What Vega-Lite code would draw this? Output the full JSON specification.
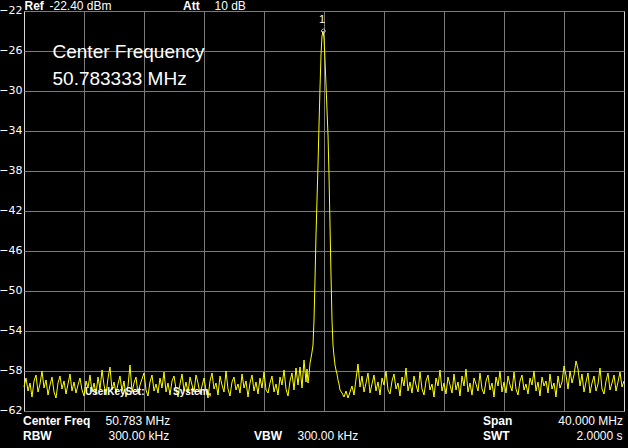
{
  "$schema": "https://vega.github.io/schema/vega-lite/v6.json",
  "width": 600,
  "height": 400,
  "autosize": {"type": "none"},
  "padding": {"left": 24, "top": 11, "right": 4, "bottom": 37},
  "background": "#000000",
  "config": {
    "view": {"stroke": "#d8d8d8", "strokeWidth": 1},
    "text": {"color": "#ffffff"},
    "axis": {"title": null, "ticks": false, "domain": false, "grid": true, "gridColor": "#7a7a7a", "labelOverlap": false},
    "axisX": {"labels": false},
    "axisY": {"labelColor": "#ffffff", "labelFont": "DejaVu Sans", "labelFontSize": 11, "labelPadding": 2, "labelOffset": -1, "labelOverlap": false, "labelFlush": false},
    "style": {
      "lb": {"font": "Liberation Sans", "fontSize": 12, "fontWeight": "bold", "align": "left", "baseline": "alphabetic"},
      "ln": {"font": "Liberation Sans", "fontSize": 12, "align": "left", "baseline": "alphabetic"},
      "rn": {"font": "Liberation Sans", "fontSize": 12, "align": "right", "baseline": "alphabetic"},
      "big": {"font": "Liberation Sans", "fontSize": 19, "align": "left", "baseline": "alphabetic"},
      "sys": {"font": "Liberation Sans", "fontSize": 10, "fontWeight": "bold", "align": "left", "baseline": "alphabetic"},
      "mk": {"font": "Liberation Sans", "fontSize": 11, "align": "center", "baseline": "alphabetic"}
    }
  },
  "layer": [
    {
      "data": {"values": [
        {"pt":0,"dBm":-59.6},{"pt":2,"dBm":-58.7},{"pt":4,"dBm":-60.0},{"pt":6,"dBm":-59.2},{"pt":8,"dBm":-60.6},{"pt":10,"dBm":-59.0},{"pt":12,"dBm":-58.4},{"pt":14,"dBm":-60.1},{"pt":16,"dBm":-59.3},{"pt":18,"dBm":-58.0},
        {"pt":20,"dBm":-59.7},{"pt":22,"dBm":-58.9},{"pt":24,"dBm":-60.4},{"pt":26,"dBm":-59.4},{"pt":28,"dBm":-58.6},{"pt":30,"dBm":-60.1},{"pt":32,"dBm":-60.7},{"pt":34,"dBm":-59.2},{"pt":36,"dBm":-58.5},{"pt":38,"dBm":-59.8},
        {"pt":40,"dBm":-59.0},{"pt":42,"dBm":-60.3},{"pt":44,"dBm":-59.3},{"pt":46,"dBm":-58.3},{"pt":48,"dBm":-60.0},{"pt":50,"dBm":-59.1},{"pt":52,"dBm":-60.2},{"pt":54,"dBm":-59.4},{"pt":56,"dBm":-58.7},{"pt":58,"dBm":-59.9},
        {"pt":60,"dBm":-60.5},{"pt":62,"dBm":-59.0},{"pt":64,"dBm":-59.7},{"pt":66,"dBm":-58.4},{"pt":68,"dBm":-60.1},{"pt":70,"dBm":-59.2},{"pt":72,"dBm":-60.3},{"pt":74,"dBm":-58.6},{"pt":76,"dBm":-59.8},{"pt":78,"dBm":-57.9},
        {"pt":80,"dBm":-59.4},{"pt":82,"dBm":-60.4},{"pt":84,"dBm":-58.7},{"pt":86,"dBm":-57.6},{"pt":88,"dBm":-59.9},{"pt":90,"dBm":-59.1},{"pt":92,"dBm":-60.2},{"pt":94,"dBm":-59.3},{"pt":96,"dBm":-58.5},{"pt":98,"dBm":-60.0},
        {"pt":100,"dBm":-59.0},{"pt":102,"dBm":-60.6},{"pt":104,"dBm":-59.5},{"pt":106,"dBm":-57.4},{"pt":108,"dBm":-60.1},{"pt":110,"dBm":-59.2},{"pt":112,"dBm":-58.6},{"pt":114,"dBm":-60.3},{"pt":116,"dBm":-59.4},{"pt":118,"dBm":-58.8},
        {"pt":120,"dBm":-58.2},{"pt":122,"dBm":-59.9},{"pt":124,"dBm":-60.5},{"pt":126,"dBm":-59.1},{"pt":128,"dBm":-58.4},{"pt":130,"dBm":-60.0},{"pt":132,"dBm":-59.3},{"pt":134,"dBm":-60.2},{"pt":136,"dBm":-58.7},{"pt":138,"dBm":-59.7},
        {"pt":140,"dBm":-58.1},{"pt":142,"dBm":-60.1},{"pt":144,"dBm":-59.2},{"pt":146,"dBm":-60.4},{"pt":148,"dBm":-59.0},{"pt":150,"dBm":-58.5},{"pt":152,"dBm":-59.8},{"pt":154,"dBm":-60.6},{"pt":156,"dBm":-59.3},{"pt":158,"dBm":-58.3},
        {"pt":160,"dBm":-60.0},{"pt":162,"dBm":-59.1},{"pt":164,"dBm":-60.2},{"pt":166,"dBm":-58.6},{"pt":168,"dBm":-59.4},{"pt":170,"dBm":-60.1},{"pt":172,"dBm":-58.4},{"pt":174,"dBm":-59.2},{"pt":176,"dBm":-60.3},{"pt":178,"dBm":-59.5},
        {"pt":180,"dBm":-58.7},{"pt":182,"dBm":-59.9},{"pt":184,"dBm":-60.7},{"pt":186,"dBm":-59.0},{"pt":188,"dBm":-58.2},{"pt":190,"dBm":-59.8},{"pt":192,"dBm":-59.2},{"pt":194,"dBm":-60.4},{"pt":196,"dBm":-58.5},{"pt":198,"dBm":-59.4},
        {"pt":200,"dBm":-60.1},{"pt":202,"dBm":-58.0},{"pt":204,"dBm":-59.8},{"pt":206,"dBm":-60.5},{"pt":208,"dBm":-59.1},{"pt":210,"dBm":-58.6},{"pt":212,"dBm":-59.9},{"pt":214,"dBm":-59.3},{"pt":216,"dBm":-60.2},{"pt":218,"dBm":-58.3},
        {"pt":220,"dBm":-59.7},{"pt":222,"dBm":-59.0},{"pt":224,"dBm":-60.6},{"pt":226,"dBm":-59.2},{"pt":228,"dBm":-58.4},{"pt":230,"dBm":-60.0},{"pt":232,"dBm":-59.1},{"pt":234,"dBm":-60.3},{"pt":236,"dBm":-58.7},{"pt":238,"dBm":-59.7},
        {"pt":240,"dBm":-58.1},{"pt":242,"dBm":-59.9},{"pt":244,"dBm":-60.2},{"pt":246,"dBm":-59.2},{"pt":248,"dBm":-58.5},{"pt":250,"dBm":-60.1},{"pt":252,"dBm":-59.3},{"pt":254,"dBm":-60.4},{"pt":256,"dBm":-58.6},{"pt":258,"dBm":-59.4},
        {"pt":260,"dBm":-57.9},{"pt":262,"dBm":-59.8},{"pt":264,"dBm":-60.5},{"pt":266,"dBm":-59.0},{"pt":268,"dBm":-58.2},{"pt":270,"dBm":-59.9},{"pt":272,"dBm":-57.7},{"pt":274,"dBm":-59.4},{"pt":276,"dBm":-57.6},{"pt":278,"dBm":-59.7},
        {"pt":280,"dBm":-56.9},{"pt":282,"dBm":-59.1},{"pt":283,"dBm":-57.8},{"pt":284,"dBm":-59.2},{"pt":285,"dBm":-58.4},{"pt":286,"dBm":-57.2},{"pt":287,"dBm":-56.7},{"pt":288,"dBm":-56.1},{"pt":289,"dBm":-55.4},
        {"pt":290,"dBm":-52.9},{"pt":291,"dBm":-48.9},{"pt":292,"dBm":-44.4},{"pt":293,"dBm":-40.9},{"pt":294,"dBm":-37.4},{"pt":295,"dBm":-33.4},{"pt":296,"dBm":-29.7},{"pt":297,"dBm":-26.4},{"pt":298,"dBm":-24.5},{"pt":299,"dBm":-24.0},
        {"pt":300,"dBm":-24.7},{"pt":301,"dBm":-26.9},{"pt":302,"dBm":-29.4},{"pt":303,"dBm":-31.9},{"pt":304,"dBm":-34.4},{"pt":305,"dBm":-38.4},{"pt":306,"dBm":-43.4},{"pt":307,"dBm":-48.4},{"pt":308,"dBm":-52.9},{"pt":309,"dBm":-55.4},
        {"pt":310,"dBm":-56.5},{"pt":311,"dBm":-57.4},{"pt":312,"dBm":-57.9},{"pt":313,"dBm":-58.3},{"pt":314,"dBm":-58.9},{"pt":315,"dBm":-59.3},{"pt":316,"dBm":-59.9},{"pt":318,"dBm":-60.2},
        {"pt":320,"dBm":-60.6},{"pt":322,"dBm":-60.0},{"pt":324,"dBm":-60.7},{"pt":326,"dBm":-60.1},{"pt":328,"dBm":-59.5},{"pt":330,"dBm":-60.4},{"pt":332,"dBm":-58.8},{"pt":334,"dBm":-57.3},{"pt":336,"dBm":-59.6},{"pt":338,"dBm":-58.5},
        {"pt":340,"dBm":-60.1},{"pt":342,"dBm":-59.2},{"pt":344,"dBm":-58.2},{"pt":346,"dBm":-60.2},{"pt":348,"dBm":-59.3},{"pt":350,"dBm":-58.4},{"pt":352,"dBm":-60.0},{"pt":354,"dBm":-59.1},{"pt":356,"dBm":-60.4},{"pt":358,"dBm":-58.7},
        {"pt":360,"dBm":-59.4},{"pt":362,"dBm":-58.0},{"pt":364,"dBm":-59.9},{"pt":366,"dBm":-60.3},{"pt":368,"dBm":-59.0},{"pt":370,"dBm":-58.3},{"pt":372,"dBm":-59.8},{"pt":374,"dBm":-59.2},{"pt":376,"dBm":-60.5},{"pt":378,"dBm":-58.6},
        {"pt":380,"dBm":-59.5},{"pt":382,"dBm":-57.7},{"pt":384,"dBm":-60.0},{"pt":386,"dBm":-59.1},{"pt":388,"dBm":-60.2},{"pt":390,"dBm":-58.5},{"pt":392,"dBm":-59.4},{"pt":394,"dBm":-60.1},{"pt":396,"dBm":-58.1},{"pt":398,"dBm":-59.8},
        {"pt":400,"dBm":-60.4},{"pt":402,"dBm":-59.0},{"pt":404,"dBm":-58.4},{"pt":406,"dBm":-59.9},{"pt":408,"dBm":-59.3},{"pt":410,"dBm":-60.6},{"pt":412,"dBm":-58.7},{"pt":414,"dBm":-59.5},{"pt":416,"dBm":-57.9},{"pt":418,"dBm":-60.0},
        {"pt":420,"dBm":-59.2},{"pt":422,"dBm":-60.3},{"pt":424,"dBm":-58.6},{"pt":426,"dBm":-59.4},{"pt":428,"dBm":-60.2},{"pt":430,"dBm":-58.3},{"pt":432,"dBm":-59.9},{"pt":434,"dBm":-59.1},{"pt":436,"dBm":-60.5},{"pt":438,"dBm":-58.5},
        {"pt":440,"dBm":-59.5},{"pt":442,"dBm":-57.8},{"pt":444,"dBm":-60.1},{"pt":446,"dBm":-59.2},{"pt":448,"dBm":-60.4},{"pt":450,"dBm":-58.7},{"pt":452,"dBm":-59.3},{"pt":454,"dBm":-60.0},{"pt":456,"dBm":-58.2},{"pt":458,"dBm":-59.8},
        {"pt":460,"dBm":-60.3},{"pt":462,"dBm":-59.0},{"pt":464,"dBm":-58.4},{"pt":466,"dBm":-59.9},{"pt":468,"dBm":-59.2},{"pt":470,"dBm":-60.6},{"pt":472,"dBm":-58.6},{"pt":474,"dBm":-59.5},{"pt":476,"dBm":-58.0},{"pt":478,"dBm":-60.1},
        {"pt":480,"dBm":-59.1},{"pt":482,"dBm":-60.2},{"pt":484,"dBm":-58.5},{"pt":486,"dBm":-59.4},{"pt":488,"dBm":-60.0},{"pt":490,"dBm":-58.1},{"pt":492,"dBm":-59.8},{"pt":494,"dBm":-60.4},{"pt":496,"dBm":-59.0},{"pt":498,"dBm":-58.4},
        {"pt":500,"dBm":-59.9},{"pt":502,"dBm":-59.3},{"pt":504,"dBm":-60.3},{"pt":506,"dBm":-58.7},{"pt":508,"dBm":-59.4},{"pt":510,"dBm":-58.0},{"pt":512,"dBm":-60.0},{"pt":514,"dBm":-59.1},{"pt":516,"dBm":-60.5},{"pt":518,"dBm":-58.6},
        {"pt":520,"dBm":-59.5},{"pt":522,"dBm":-59.0},{"pt":524,"dBm":-60.2},{"pt":526,"dBm":-58.3},{"pt":528,"dBm":-59.8},{"pt":530,"dBm":-59.2},{"pt":532,"dBm":-60.6},{"pt":534,"dBm":-58.5},{"pt":536,"dBm":-59.7},{"pt":538,"dBm":-59.1},
        {"pt":540,"dBm":-57.5},{"pt":542,"dBm":-58.4},{"pt":544,"dBm":-59.8},{"pt":546,"dBm":-58.0},{"pt":548,"dBm":-59.2},{"pt":550,"dBm":-58.4},{"pt":552,"dBm":-57.0},{"pt":554,"dBm":-57.8},{"pt":556,"dBm":-59.5},{"pt":558,"dBm":-58.3},
        {"pt":560,"dBm":-60.1},{"pt":562,"dBm":-59.1},{"pt":564,"dBm":-58.2},{"pt":566,"dBm":-60.2},{"pt":568,"dBm":-59.2},{"pt":570,"dBm":-58.5},{"pt":572,"dBm":-60.0},{"pt":574,"dBm":-59.3},{"pt":576,"dBm":-57.7},{"pt":578,"dBm":-59.8},
        {"pt":580,"dBm":-60.3},{"pt":582,"dBm":-59.0},{"pt":584,"dBm":-58.2},{"pt":586,"dBm":-59.9},{"pt":588,"dBm":-59.2},{"pt":590,"dBm":-58.4},{"pt":592,"dBm":-60.0},{"pt":594,"dBm":-59.1},{"pt":596,"dBm":-58.1},{"pt":598,"dBm":-59.6},
        {"pt":600,"dBm":-59.0}
      ]},
      "mark": {"type": "line", "color": "#ffff00", "strokeWidth": 1, "interpolate": "linear"},
      "encoding": {
        "x": {"field": "pt", "type": "quantitative", "scale": {"domain": [0, 600], "nice": false, "zero": false},
          "axis": {"values": [60,120,180,240,300,360,420,480,540], "tickCount": 20}},
        "y": {"field": "dBm", "type": "quantitative", "scale": {"domain": [-62, -22], "nice": false, "zero": false},
          "axis": {"values": [-22,-26,-30,-34,-38,-42,-46,-50,-54,-58,-62], "tickCount": 20, "labelOverlap": false}}
      }
    },
    {"data": {"values": [{}]}, "mark": {"type": "point", "shape": "diamond", "filled": false, "stroke": "#ffffff", "strokeWidth": 1, "size": 22},
      "encoding": {"x": {"datum": 299.3}, "y": {"datum": -24.0}}},
    {"data": {"values": [{}]}, "mark": {"type": "text", "style": "mk"}, "encoding": {"x": {"datum": 298}, "y": {"datum": -23.2}, "text": {"value": "1"}}},
    {"data": {"values": [{}]}, "mark": {"type": "text", "style": "big"}, "encoding": {"x": {"datum": 28.5}, "y": {"datum": -26.7}, "text": {"value": "Center Frequency"}}},
    {"data": {"values": [{}]}, "mark": {"type": "text", "style": "big"}, "encoding": {"x": {"datum": 28.5}, "y": {"datum": -29.4}, "text": {"value": "50.783333 MHz"}}},
    {"data": {"values": [{}]}, "mark": {"type": "text", "style": "lb"}, "encoding": {"x": {"datum": 0.5}, "y": {"datum": -21.9}, "text": {"value": "Ref"}}},
    {"data": {"values": [{}]}, "mark": {"type": "text", "style": "ln"}, "encoding": {"x": {"datum": 25.5}, "y": {"datum": -21.9}, "text": {"value": "-22.40 dBm"}}},
    {"data": {"values": [{}]}, "mark": {"type": "text", "style": "lb"}, "encoding": {"x": {"datum": 159}, "y": {"datum": -21.9}, "text": {"value": "Att"}}},
    {"data": {"values": [{}]}, "mark": {"type": "text", "style": "ln"}, "encoding": {"x": {"datum": 190.5}, "y": {"datum": -21.9}, "text": {"value": "10 dB"}}},
    {"data": {"values": [{}]}, "mark": {"type": "text", "style": "lb"}, "encoding": {"x": {"datum": -1}, "y": {"datum": -63.4}, "text": {"value": "Center Freq"}}},
    {"data": {"values": [{}]}, "mark": {"type": "text", "style": "ln"}, "encoding": {"x": {"datum": 81.5}, "y": {"datum": -63.4}, "text": {"value": "50.783 MHz"}}},
    {"data": {"values": [{}]}, "mark": {"type": "text", "style": "lb"}, "encoding": {"x": {"datum": -1}, "y": {"datum": -64.9}, "text": {"value": "RBW"}}},
    {"data": {"values": [{}]}, "mark": {"type": "text", "style": "ln"}, "encoding": {"x": {"datum": 84.5}, "y": {"datum": -64.9}, "text": {"value": "300.00 kHz"}}},
    {"data": {"values": [{}]}, "mark": {"type": "text", "style": "lb"}, "encoding": {"x": {"datum": 230}, "y": {"datum": -64.9}, "text": {"value": "VBW"}}},
    {"data": {"values": [{}]}, "mark": {"type": "text", "style": "ln"}, "encoding": {"x": {"datum": 273.5}, "y": {"datum": -64.9}, "text": {"value": "300.00 kHz"}}},
    {"data": {"values": [{}]}, "mark": {"type": "text", "style": "lb"}, "encoding": {"x": {"datum": 459}, "y": {"datum": -63.4}, "text": {"value": "Span"}}},
    {"data": {"values": [{}]}, "mark": {"type": "text", "style": "rn"}, "encoding": {"x": {"datum": 599}, "y": {"datum": -63.4}, "text": {"value": "40.000 MHz"}}},
    {"data": {"values": [{}]}, "mark": {"type": "text", "style": "lb"}, "encoding": {"x": {"datum": 459}, "y": {"datum": -64.9}, "text": {"value": "SWT"}}},
    {"data": {"values": [{}]}, "mark": {"type": "text", "style": "rn"}, "encoding": {"x": {"datum": 598.5}, "y": {"datum": -64.9}, "text": {"value": "2.0000 s"}}},
    {"data": {"values": [{}]}, "mark": {"type": "text", "style": "sys"}, "encoding": {"x": {"datum": 61}, "y": {"datum": -60.4}, "text": {"value": "UserKeySet:"}}},
    {"data": {"values": [{}]}, "mark": {"type": "text", "style": "sys"}, "encoding": {"x": {"datum": 149}, "y": {"datum": -60.4}, "text": {"value": "System,"}}}
  ]
}
